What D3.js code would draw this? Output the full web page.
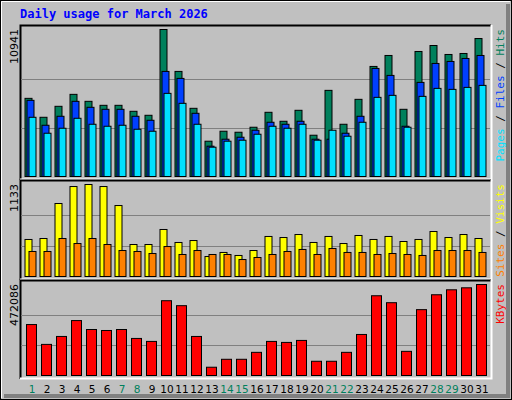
<!DOCTYPE html>
<html><head><meta charset="utf-8">
<script src="https://cdn.jsdelivr.net/npm/d3@7"></script>
<style>body{margin:0;background:#fff}</style>
</head><body>
<div id="chart"></div>
<script>
// daily values
const days = d3.range(1, 32)
const weekends = [1, 7, 8, 14, 15, 21, 22, 28, 29]
const hits = [5817,4407,5224,6114,5595,5298,5298,4853,4556,10941,7821,5075,2627,3369,3294,3666,4778,4111,4927,3072,6411,3888,5743,8192,9008,5001,9305,9750,9082,9156,10269]
const files = [5669,3814,4482,5595,5150,5001,5001,4482,4185,7821,7301,4704,2256,2775,2923,3443,4037,3888,4111,2775,2775,3220,4482,8043,7524,3740,7004,8414,8563,8785,9008]
const pages = [4407,3220,3591,4333,3888,3740,3814,3517,3369,6188,5446,3888,2181,2627,2701,3146,3740,3591,3888,2701,3443,2998,4037,5891,6040,3666,5965,6559,6485,6633,6782]
const visits = [456,468,899,1108,1133,1108,874,394,394,579,419,443,246,296,259,320,493,480,517,419,493,406,505,456,493,431,456,554,480,517,468]
const sites = [308,308,468,406,468,394,320,308,283,369,271,320,271,271,209,234,271,308,333,271,345,296,296,271,283,271,259,320,320,320,296]
const kbytes = [264372,161370,202570,284972,238621,233471,238621,192270,176820,387974,362223,202570,42918,84118,84118,120169,176820,171670,181970,73818,73818,120169,212871,413725,377674,125319,341623,418875,444625,454926,472086]

const W = 512, H = 400
const mono = "'DejaVu Sans Mono', monospace"
const svg = d3.select('#chart').append('svg').attr('width', W).attr('height', H)

// outer frame
svg.append('rect').attr('x', 0.5).attr('y', 0.5).attr('width', W - 1).attr('height', H - 1)
  .attr('fill', '#c0c0c0').attr('stroke', '#000')
svg.append('path').attr('d', 'M1.5,398V1.5H510').attr('stroke', '#fff').attr('fill', 'none')
svg.append('path').attr('d', 'M508,4V396H4').attr('stroke', '#808080').attr('stroke-width', 4).attr('fill', 'none')

svg.append('text').attr('x', 20).attr('y', 18).text('Daily usage for March 2026')
  .attr('font-family', mono).attr('font-weight', 'bold').attr('font-size', 12).attr('fill', '#0000ff')

const x = d3.scaleBand().domain(days).range([24.5, 489.5]).padding(0)

function panel(top, bottom, maxVal, series, label, labelParts) {
  const base = bottom - 3.5
  const y = d3.scaleLinear().domain([0, maxVal]).range([base, top + 4.5])
  const g = svg.append('g')
  g.append('path').attr('d', `M20.5,${bottom}V${top + 0.5}H491`).attr('stroke', '#000').attr('fill', 'none').attr('stroke-width', 2)
  g.append('path').attr('d', `M491.5,${top}V${bottom - 0.5}H20`).attr('stroke', '#fff').attr('fill', 'none').attr('stroke-width', 2)
  ;[1 / 3, 2 / 3].forEach(f => {
    g.append('line').attr('x1', 21).attr('x2', 490).attr('y1', Math.round(y(maxVal * f)) + 0.5).attr('y2', Math.round(y(maxVal * f)) + 0.5)
      .attr('stroke', '#808080').attr('stroke-width', 1)
  })
  series.forEach(s => {
    g.selectAll(null).data(s.values).enter().append('rect')
      .attr('x', (d, i) => x(days[i]) + s.dx)
      .attr('y', d => y(d))
      .attr('width', s.w)
      .attr('height', d => base - y(d))
      .attr('fill', s.color).attr('stroke', '#000').attr('stroke-width', 1)
  })
  g.append('text').attr('transform', `translate(18,${top + 4}) rotate(-90)`).attr('text-anchor', 'end')
    .attr('font-family', "'DejaVu Sans', sans-serif").attr('font-size', 11).attr('fill', '#000').text(label)
  const t = g.append('text').attr('transform', `translate(504,${top + 4}) rotate(-90)`).attr('text-anchor', 'end')
    .attr('font-family', mono).attr('font-size', 11)
  labelParts.forEach(p => t.append('tspan').attr('fill', p[1]).text(p[0]))
}

panel(25, 180, 10941, [
  { values: hits, dx: 0.5, w: 7, color: '#00805c' },
  { values: files, dx: 2.5, w: 7, color: '#0040ff' },
  { values: pages, dx: 4.5, w: 7, color: '#00e0ff' }
], '10941', [['Pages', '#00e0ff'], [' / ', '#000'], ['Files', '#0040ff'], [' / ', '#000'], ['Hits', '#00805c']])

panel(180, 280, 1133, [
  { values: visits, dx: 0.5, w: 7, color: '#ffff00' },
  { values: sites, dx: 4.5, w: 7, color: '#ff8000' }
], '1133', [['Sites', '#ff8000'], [' / ', '#000'], ['Visits', '#ffff00']])

panel(280, 379, 472086, [
  { values: kbytes, dx: 2, w: 10, color: '#ff0000' }
], '472086', [['KBytes', '#ff0000']])

svg.selectAll('.day').data(days).enter().append('text')
  .attr('x', d => x(d) + 7.5).attr('y', 393).attr('text-anchor', 'middle')
  .attr('font-family', "'DejaVu Sans', sans-serif").attr('font-size', 10.5)
  .attr('fill', d => weekends.includes(d) ? '#00805c' : '#000').text(d => d)
</script>
</body></html>
